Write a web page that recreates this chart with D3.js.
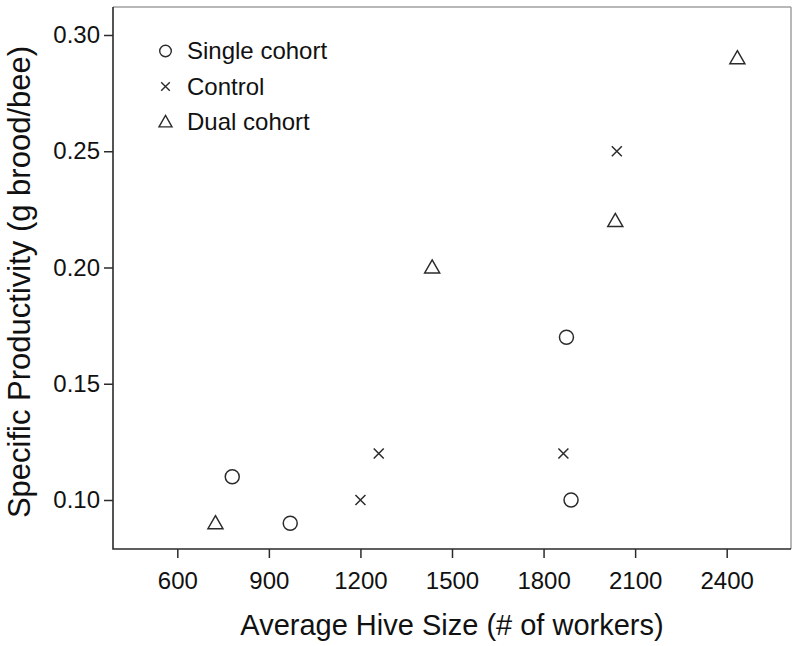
<!DOCTYPE html>
<html>
<head>
<meta charset="utf-8">
<script src="https://cdn.jsdelivr.net/npm/d3@7"></script>
<style>
  body { margin: 0; background: #fff; }
  svg { display: block; font-family: "Liberation Sans", Arial, sans-serif; }
</style>
</head>
<body>
<svg width="800" height="646"></svg>
<script>
const svg = d3.select("svg");

// DATA
const singleX = [780, 970, 1875, 1890];
const singleY = [0.11, 0.09, 0.17, 0.10];
const controlX = [1200, 1260, 1865, 2040];
const controlY = [0.10, 0.12, 0.12, 0.25];
const dualX = [725, 1435, 2035, 2435];
const dualY = [0.09, 0.20, 0.22, 0.29];

const xTicks = [600, 900, 1200, 1500, 1800, 2100, 2400];
const yTicks = [0.10, 0.15, 0.20, 0.25, 0.30];
const legendLabels = ["Single cohort", "Control", "Dual cohort"];

// CONSTANTS
const frame = { left: 113, right: 791, top: 7, bottom: 549 };
const ink = "#2b2b2b";

// SCALES
const xScale = d3.scaleLinear().domain([389.3, 2610.7]).range([frame.left, frame.right]);
const yScale = d3.scaleLinear().domain([0.07892, 0.31204]).range([frame.bottom, frame.top]);

const zip = (xs, ys) => xs.map((x, i) => ({ x, y: ys[i] }));

// symbol path makers
const crossPath = s => `M${-s},${-s}L${s},${s}M${-s},${s}L${s},${-s}`;
const triPath = (w, h) => `M0,${-h * 0.58}L${w / 2},${h * 0.42}L${-w / 2},${h * 0.42}Z`;

// frame: top/right grey, left/bottom dark
svg.append("line")
  .attr("x1", frame.left).attr("x2", frame.right)
  .attr("y1", frame.top).attr("y2", frame.top)
  .attr("stroke", "#a0a0a0").attr("stroke-width", 1.5);
svg.append("line")
  .attr("x1", frame.right).attr("x2", frame.right)
  .attr("y1", frame.top).attr("y2", frame.bottom)
  .attr("stroke", "#a0a0a0").attr("stroke-width", 1.5);

// AXES
const xAxis = svg.append("g")
  .attr("transform", `translate(0, ${frame.bottom})`)
  .call(d3.axisBottom(xScale).tickValues(xTicks).tickSize(9).tickSizeOuter(0).tickPadding(13.5).tickFormat(d3.format("d")));

const yAxis = svg.append("g")
  .attr("transform", `translate(${frame.left}, 0)`)
  .call(d3.axisLeft(yScale).tickValues(yTicks).tickSize(9).tickSizeOuter(0).tickPadding(4).tickFormat(d3.format(".2f")));

[xAxis, yAxis].forEach(ax => {
  ax.select(".domain").remove();
  ax.selectAll(".tick line").attr("stroke", ink).attr("stroke-width", 1.5);
  ax.selectAll(".tick text")
    .attr("fill", "#111")
    .style("font-size", "24px")
    .style("font-family", '"Liberation Sans", Arial, sans-serif');
});

svg.append("path")
  .attr("d", `M${frame.left},${frame.top}V${frame.bottom}H${frame.right}`)
  .attr("fill", "none")
  .attr("stroke", ink)
  .attr("stroke-width", 1.6);

// axis titles
svg.append("text")
  .attr("x", (frame.left + frame.right) / 2)
  .attr("y", 635)
  .attr("text-anchor", "middle")
  .attr("font-size", 29)
  .attr("fill", "#111")
  .text("Average Hive Size (# of workers)");

svg.append("text")
  .attr("transform", "translate(30, 282) rotate(-90)")
  .attr("text-anchor", "middle")
  .attr("font-size", 31)
  .attr("fill", "#111")
  .text("Specific Productivity (g brood/bee)");

// POINTS
const plot = svg.append("g");

plot.selectAll("circle.single")
  .data(zip(singleX, singleY))
  .join("circle")
  .attr("class", "single")
  .attr("cx", d => xScale(d.x))
  .attr("cy", d => yScale(d.y))
  .attr("r", 7)
  .attr("fill", "none")
  .attr("stroke", ink)
  .attr("stroke-width", 1.5);

plot.selectAll("path.control")
  .data(zip(controlX, controlY))
  .join("path")
  .attr("class", "control")
  .attr("transform", d => `translate(${xScale(d.x)}, ${yScale(d.y)})`)
  .attr("d", crossPath(5))
  .attr("stroke", ink)
  .attr("stroke-width", 1.5);

plot.selectAll("path.dual")
  .data(zip(dualX, dualY))
  .join("path")
  .attr("class", "dual")
  .attr("transform", d => `translate(${xScale(d.x)}, ${yScale(d.y)})`)
  .attr("d", triPath(15, 13))
  .attr("fill", "none")
  .attr("stroke", ink)
  .attr("stroke-width", 1.5)
  .attr("stroke-linejoin", "miter");

// LEGEND
const legendY = [51, 86.5, 122];
const legend = svg.append("g");
legendLabels.forEach((label, i) => {
  const g = legend.append("g").attr("transform", `translate(165.5, ${legendY[i]})`);
  if (i === 0) {
    g.append("circle").attr("r", 5.8).attr("fill", "none").attr("stroke", ink).attr("stroke-width", 1.4);
  } else if (i === 1) {
    g.append("path").attr("d", crossPath(4.3)).attr("stroke", ink).attr("stroke-width", 1.4);
  } else {
    g.append("path").attr("d", triPath(13, 11.5)).attr("fill", "none").attr("stroke", ink).attr("stroke-width", 1.4);
  }
  g.append("text")
    .attr("x", 21.5)
    .attr("dy", "0.35em")
    .attr("font-size", 24)
    .attr("fill", "#111")
    .text(label);
});
</script>
</body>
</html>
